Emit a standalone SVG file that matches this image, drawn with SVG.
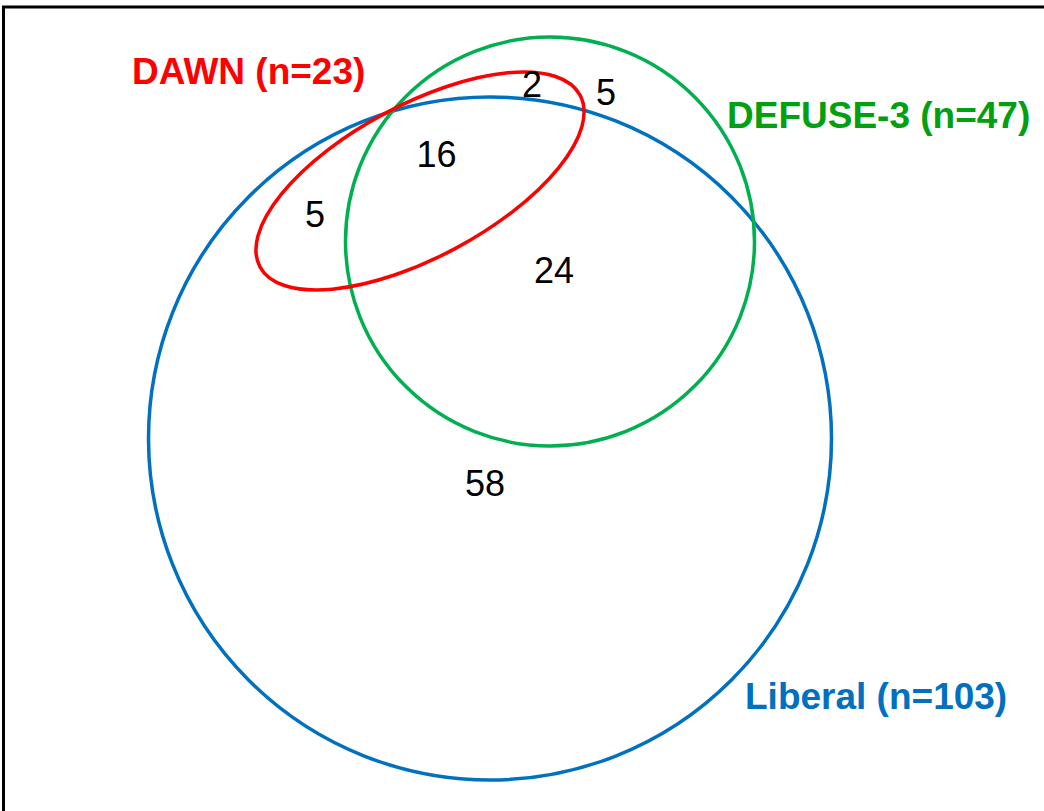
<svg xmlns="http://www.w3.org/2000/svg" width="1044" height="811" viewBox="0 0 1044 811">
<style>
.set{fill:none;stroke-width:3.5}
.lbl{font-family:"Liberation Sans",Arial,sans-serif;font-weight:bold;font-size:37px}
.num{font-family:"Liberation Sans",Arial,sans-serif;font-size:36px;fill:#000;text-anchor:middle}
</style>
<rect x="0" y="0" width="1044" height="811" fill="#fff"/>
<rect x="3.5" y="7" width="1200" height="1000" fill="none" stroke="#000" stroke-width="3"/>
<g id="liberal">
<circle class="set" cx="490" cy="438.5" r="341.5" stroke="#0070C0"/>
<text class="lbl" x="745" y="709" fill="#0070C0">Liberal (n=103)</text>
</g>
<g id="defuse3">
<circle class="set" cx="550" cy="241.5" r="204.5" stroke="#00B050"/>
<text class="lbl" x="727" y="128" fill="#00A010">DEFUSE-3 (n=47)</text>
</g>
<g id="dawn">
<ellipse class="set" cx="420" cy="181" rx="181.6" ry="76.2" transform="rotate(-28.2 420 181)" stroke="#FF0000"/>
<text class="lbl" x="132" y="84" fill="#FF0000">DAWN (n=23)</text>
</g>
<g id="counts">
<text class="num" x="315" y="227">5</text>
<text class="num" x="436.5" y="167">16</text>
<text class="num" x="532" y="97">2</text>
<text class="num" x="606" y="105">5</text>
<text class="num" x="554" y="283">24</text>
<text class="num" x="485" y="496">58</text>
</g>
<g id="connectors"></g>
</svg>
